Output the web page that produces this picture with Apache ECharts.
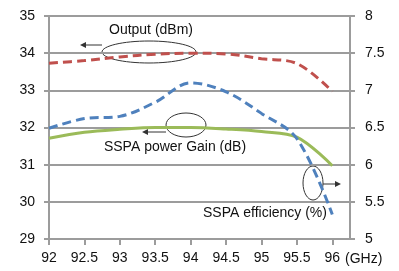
<!DOCTYPE html>
<html>
<head>
<meta charset="utf-8">
<script src="https://cdn.jsdelivr.net/npm/echarts@6/dist/echarts.min.js"></script>
<style>
  html, body { margin: 0; padding: 0; background: #fff; }
  #chart { width: 399px; height: 271px; }
</style>
</head>
<body>
<div id="chart"></div>
<script>
// frequency points (GHz)
const freqs = [92, 92.5, 93, 93.5, 94, 94.5, 95, 95.5, 96];
// left axis (dBm / dB)
const outputDbm = [33.73, 33.8, 33.9, 33.97, 34.0, 33.98, 33.85, 33.72, 32.97];
const gainDb = [31.71, 31.87, 31.95, 32.0, 32.0, 31.96, 31.89, 31.74, 30.97];
// right axis (%)
const efficiency = [6.49, 6.62, 6.65, 6.84, 7.1, 6.98, 6.69, 6.35, 5.33];

const font = '"Liberation Sans", Arial, sans-serif';
const gridGray = '#9c9c9c';
const textColor = '#111';

const pairs = vals => freqs.map((f, i) => [f, vals[i]]);

const chart = echarts.init(document.getElementById('chart'), null, { renderer: 'canvas' });

chart.setOption({
  animation: false,
  textStyle: { fontFamily: font },
  grid: { left: 49, right: 49, top: 16, bottom: 32 },
  xAxis: {
    type: 'value',
    min: 92,
    max: 96.25,
    interval: 0.5,
    axisLine: { lineStyle: { color: gridGray, width: 2 } },
    axisTick: { show: true, length: 6, customValues: freqs, lineStyle: { color: gridGray, width: 2 } },
    axisLabel: { customValues: freqs, color: textColor, fontSize: 14, margin: 12 },
    splitLine: { show: false }
  },
  yAxis: [
    {
      type: 'value',
      min: 29,
      max: 35,
      interval: 1,
      axisLine: { show: true, lineStyle: { color: gridGray, width: 2 } },
      axisTick: { show: true, length: 5, lineStyle: { color: gridGray, width: 2 } },
      axisLabel: { color: textColor, fontSize: 14, margin: 14 },
      splitLine: { lineStyle: { color: gridGray, width: 2 } }
    },
    {
      type: 'value',
      min: 5,
      max: 8,
      interval: 0.5,
      position: 'right',
      axisLine: { show: true, lineStyle: { color: gridGray, width: 2 } },
      axisTick: { show: true, length: 5, lineStyle: { color: gridGray, width: 2 } },
      axisLabel: { color: textColor, fontSize: 14, margin: 15 },
      splitLine: { show: false }
    }
  ],
  series: [
    {
      name: 'Output (dBm)',
      type: 'line',
      yAxisIndex: 0,
      data: pairs(outputDbm),
      smooth: 0.35,
      symbol: 'none',
      lineStyle: { color: '#c0504d', width: 3, type: [9, 5] }
    },
    {
      name: 'SSPA power Gain (dB)',
      type: 'line',
      yAxisIndex: 0,
      data: pairs(gainDb),
      smooth: 0.35,
      symbol: 'none',
      lineStyle: { color: '#9bbb59', width: 3 }
    },
    {
      name: 'SSPA efficiency (%)',
      type: 'line',
      yAxisIndex: 1,
      data: pairs(efficiency),
      smooth: 0.35,
      symbol: 'none',
      lineStyle: { color: '#4f81bd', width: 3, type: [9, 5] }
    }
  ],
  graphic: [
    { type: 'text', left: 345, top: 252, style: { text: '(GHz)', font: '14px ' + font, fill: textColor } },
    // Output annotation
    { type: 'text', x: 151, y: 30, style: { text: 'Output (dBm)', font: '14px ' + font, fill: textColor, align: 'center', verticalAlign: 'middle' } },
    { type: 'ellipse', shape: { cx: 149, cy: 52, rx: 47, ry: 11 }, style: { fill: 'none', stroke: '#333', lineWidth: 1 } },
    { type: 'line', shape: { x1: 102, y1: 45, x2: 84, y2: 45 }, style: { stroke: '#333', lineWidth: 1 } },
    { type: 'polygon', shape: { points: [[80, 45], [86, 42], [86, 48]] }, style: { fill: '#333' } },
    // Gain annotation
    { type: 'ellipse', shape: { cx: 186, cy: 125, rx: 20, ry: 12 }, style: { fill: 'none', stroke: '#333', lineWidth: 1 } },
    { type: 'line', shape: { x1: 166, y1: 132, x2: 146, y2: 132 }, style: { stroke: '#333', lineWidth: 1 } },
    { type: 'polygon', shape: { points: [[142, 132], [148, 129], [148, 135]] }, style: { fill: '#333' } },
    { type: 'text', x: 175, y: 147, style: { text: 'SSPA power Gain (dB)', font: '14px ' + font, fill: textColor, align: 'center', verticalAlign: 'middle' } },
    // Efficiency annotation
    { type: 'ellipse', shape: { cx: 313, cy: 183, rx: 10, ry: 17 }, style: { fill: 'none', stroke: '#333', lineWidth: 1 } },
    { type: 'line', shape: { x1: 323, y1: 184, x2: 337, y2: 184 }, style: { stroke: '#333', lineWidth: 1 } },
    { type: 'polygon', shape: { points: [[341, 184], [335, 181], [335, 187]] }, style: { fill: '#333' } },
    { type: 'text', x: 265, y: 213, style: { text: 'SSPA efficiency (%)', font: '14px ' + font, fill: textColor, align: 'center', verticalAlign: 'middle' } }
  ]
});
</script>
</body>
</html>
